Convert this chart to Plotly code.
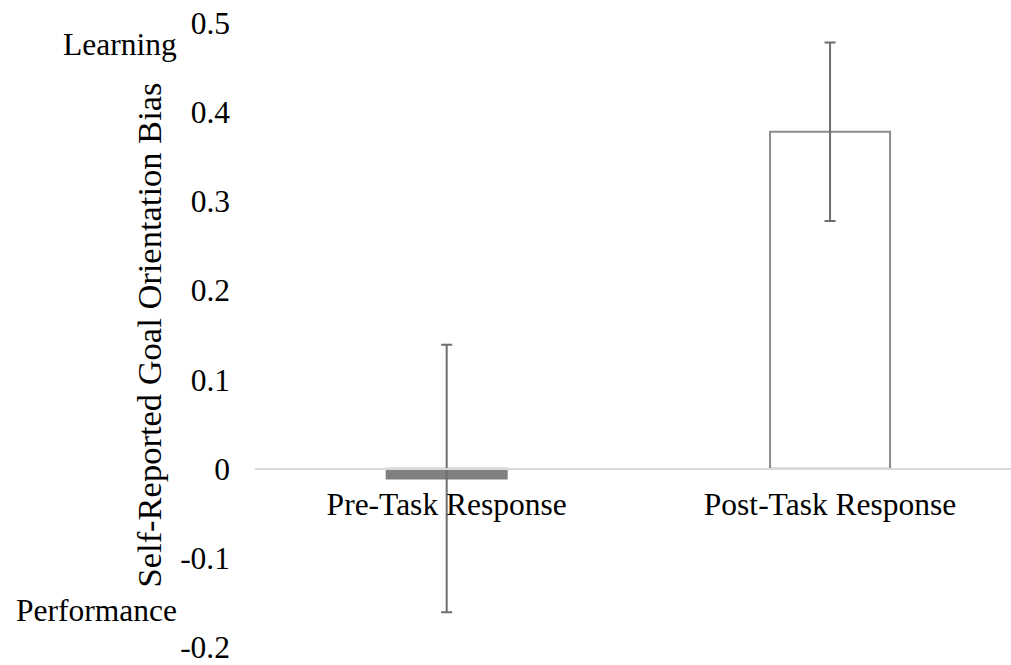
import plotly.graph_objects as go

# Goal-orientation bias before and after the task
categories = ["Pre-Task Response", "Post-Task Response"]
bias_mean = [-0.011, 0.378]
bias_err = [0.15, 0.1]
bar_fill = ["#808080", "#ffffff"]
bar_edge = ["#808080", "#8c8c8c"]
y_ticks = [-0.2, -0.1, 0, 0.1, 0.2, 0.3, 0.4, 0.5]
y_tick_text = ["-0.2", "-0.1", "0", "0.1", "0.2", "0.3", "0.4", "0.5"]

SERIF = "Liberation Serif, Times New Roman, serif"

fig = go.Figure(
    go.Bar(
        x=categories,
        y=bias_mean,
        width=0.313,
        marker=dict(color=bar_fill, line=dict(color=bar_edge, width=2)),
        error_y=dict(type="data", array=bias_err, visible=True,
                     color="#6e6e6e", thickness=2, width=5.5),
        showlegend=False,
    )
)

y_min, y_max = -0.2, 0.5

fig.update_layout(
    width=1011,
    height=665,
    margin=dict(l=255, r=0, t=23, b=16),
    paper_bgcolor="white",
    plot_bgcolor="white",
    font=dict(family=SERIF, size=31.5, color="black"),
    xaxis=dict(
        range=[-0.5, 1.472],
        anchor="free",
        position=(0 - y_min) / (y_max - y_min),
        showline=True,
        linecolor="#d9d9d9",
        linewidth=1.5,
        showgrid=False,
        ticks="",
        ticklabelstandoff=8,
        tickfont=dict(family=SERIF, size=31.5, color="black"),
    ),
    yaxis=dict(
        range=[y_min, y_max],
        tickvals=y_ticks,
        ticktext=y_tick_text,
        showgrid=False,
        zeroline=False,
        showline=False,
        ticks="",
        ticklabelstandoff=24,
        ticklabeloverflow="allow",
        tickfont=dict(family=SERIF, size=31.5, color="black"),
        title=dict(text="Self-Reported Goal Orientation Bias",
                   font=dict(family=SERIF, size=34.5, color="black"),
                   standoff=8),
    ),
    annotations=[
        dict(text="Learning", xref="paper", yref="y", x=-0.1005, y=0.476,
             xanchor="right", yanchor="middle", showarrow=False,
             font=dict(family=SERIF, size=31.5, color="black")),
        dict(text="Performance", xref="paper", yref="y", x=-0.1005, y=-0.159,
             xanchor="right", yanchor="middle", showarrow=False,
             font=dict(family=SERIF, size=31.5, color="black")),
    ],
)

fig.write_html("out.html")
